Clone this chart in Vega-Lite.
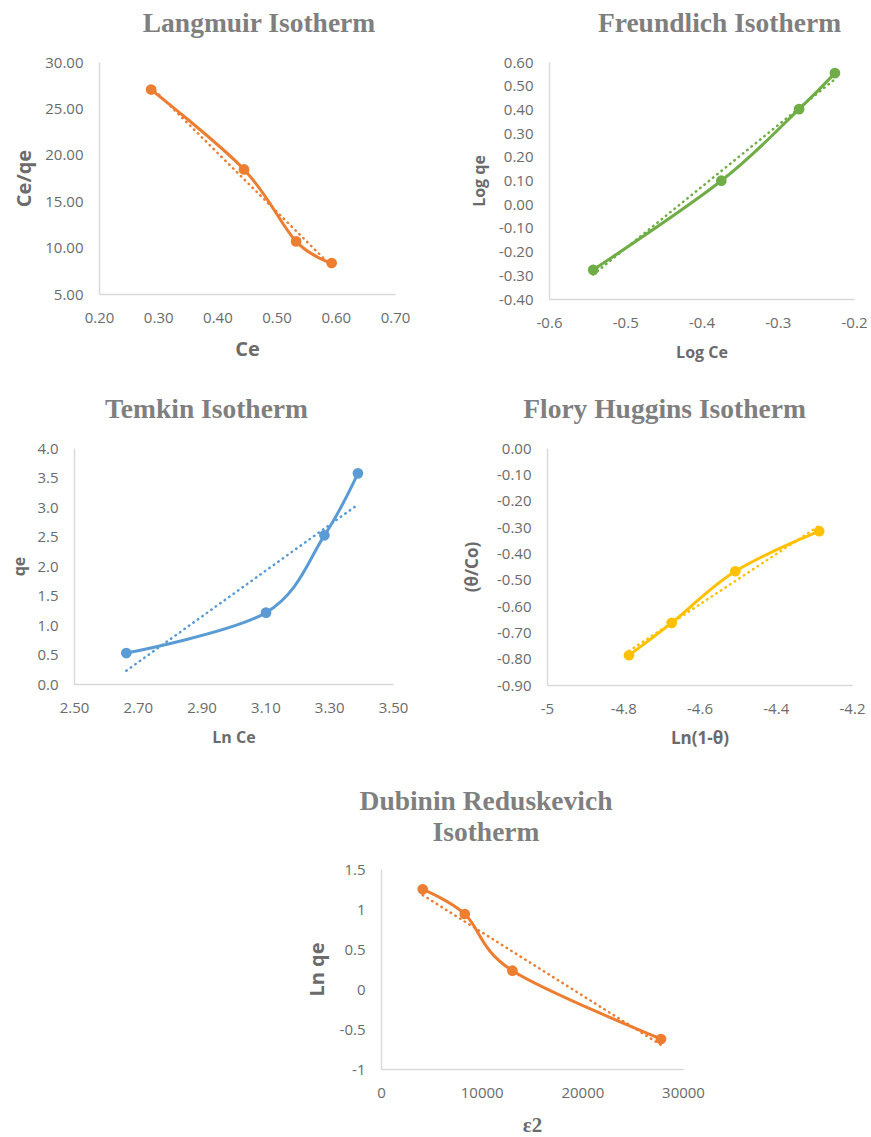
{
  "$schema": "https://vega.github.io/schema/vega-lite/v6.json",
  "padding": {"left": 5, "top": 9, "right": 5, "bottom": 5},
  "background": "white",
  "config": {
    "view": {"stroke": null},
    "locale": {"number": {"decimal": ".", "thousands": ",", "grouping": [3], "currency": ["$", ""], "minus": "-"}},
    "axis": {
      "grid": false, "ticks": false, "tickSize": 0,
      "domainColor": "#D9D9D9", "domainWidth": 1.5,
      "labelFont": "Open Sans", "labelFontSize": 15, "labelColor": "#6B6B6B",
      "labelFlush": false, "labelOverlap": false,
      "titleFont": "Open Sans", "titleFontWeight": "bold", "titleColor": "#6B6B6B"
    },
    "axisX": {"labelPadding": 16, "titlePadding": 14},
    "axisY": {"labelPadding": 16, "titlePadding": 9},
    "title": {"font": "Liberation Serif", "fontWeight": "bold", "fontSize": 27.5, "color": "#7F7F7F", "frame": "group", "anchor": "middle", "offset": 18}
  },
  "datasets": {
    "langmuir": [
      {"x": 0.288, "y": 27.03},
      {"x": 0.445, "y": 18.42},
      {"x": 0.533, "y": 10.67},
      {"x": 0.593, "y": 8.34}
    ],
    "freundlich": [
      {"x": -0.542, "y": -0.277},
      {"x": -0.374, "y": 0.099},
      {"x": -0.272, "y": 0.401},
      {"x": -0.225, "y": 0.553}
    ],
    "temkin": [
      {"x": 2.664, "y": 0.525},
      {"x": 3.102, "y": 1.21},
      {"x": 3.285, "y": 2.52},
      {"x": 3.39, "y": 3.57}
    ],
    "flory": [
      {"x": -4.785, "y": -0.787},
      {"x": -4.673, "y": -0.664},
      {"x": -4.506, "y": -0.468},
      {"x": -4.286, "y": -0.316}
    ],
    "dubinin": [
      {"x": 4147, "y": 1.246},
      {"x": 8323, "y": 0.9375},
      {"x": 13056, "y": 0.229},
      {"x": 27812, "y": -0.625}
    ],
    "blank": [{"a": 0}]
  },
  "columns": 1,
  "spacing": 41,
  "concat": [
    {
      "columns": 1,
      "spacing": 35,
      "concat": [
        {
          "spacing": 8,
          "hconcat": [
            {"width": 1, "height": 10, "data": {"name": "blank"}, "mark": {"type": "point", "opacity": 0, "size": 1}, "encoding": {}},
            {
              "bounds": "flush",
              "spacing": 154,
              "hconcat": [
                {
                  "width": 296, "height": 232,
                  "title": {"text": "Langmuir Isotherm", "dx": 12},
                  "data": {"name": "langmuir"},
                  "encoding": {
                    "x": {"field": "x", "type": "quantitative", "scale": {"domain": [0.2, 0.7], "nice": false, "zero": false}, "axis": {"title": "Ce", "values": [0.2, 0.3, 0.4, 0.5, 0.6, 0.7], "format": ".2f", "titleFontSize": 20}},
                    "y": {"field": "y", "type": "quantitative", "scale": {"domain": [5, 30], "nice": false, "zero": false}, "axis": {"title": "Ce/qe", "values": [5, 10, 15, 20, 25, 30], "format": ".2f", "titleFontSize": 20, "titlePadding": 10}}
                  },
                  "layer": [
                    {"transform": [{"regression": "y", "on": "x"}], "mark": {"type": "line", "color": "#ED7D31", "strokeWidth": 2.5, "strokeDash": [0.5, 5], "strokeCap": "round"}},
                    {"mark": {"type": "line", "color": "#ED7D31", "strokeWidth": 3, "interpolate": "cardinal"}},
                    {"mark": {"type": "point", "filled": true, "color": "#ED7D31", "size": 115, "opacity": 1}}
                  ]
                },
                {
                  "width": 305, "height": 237,
                  "title": {"text": "Freundlich Isotherm", "dx": 18},
                  "data": {"name": "freundlich"},
                  "encoding": {
                    "x": {"field": "x", "type": "quantitative", "scale": {"domain": [-0.6, -0.2], "nice": false, "zero": false}, "axis": {"title": "Log Ce", "values": [-0.6, -0.5, -0.4, -0.3, -0.2], "format": ".1f", "titleFontSize": 16}},
                    "y": {"field": "y", "type": "quantitative", "scale": {"domain": [-0.4, 0.6], "nice": false, "zero": false}, "axis": {"title": "Log qe", "values": [-0.4, -0.3, -0.2, -0.1, 0, 0.1, 0.2, 0.3, 0.4, 0.5, 0.6], "format": ".2f", "titleFontSize": 16, "titlePadding": 11}}
                  },
                  "layer": [
                    {"transform": [{"regression": "y", "on": "x"}], "mark": {"type": "line", "color": "#70AD47", "strokeWidth": 2.5, "strokeDash": [0.5, 5], "strokeCap": "round"}},
                    {"mark": {"type": "line", "color": "#70AD47", "strokeWidth": 3, "interpolate": "cardinal"}},
                    {"mark": {"type": "point", "filled": true, "color": "#70AD47", "size": 115, "opacity": 1}}
                  ]
                }
              ]
            }
          ]
        },
        {
          "spacing": 5,
          "hconcat": [
            {"width": 1, "height": 10, "data": {"name": "blank"}, "mark": {"type": "point", "opacity": 0, "size": 1}, "encoding": {}},
            {
              "bounds": "flush",
              "spacing": 154,
              "hconcat": [
                {
                  "width": 319, "height": 236,
                  "title": {"text": "Temkin  Isotherm", "dx": -27},
                  "data": {"name": "temkin"},
                  "encoding": {
                    "x": {"field": "x", "type": "quantitative", "scale": {"domain": [2.5, 3.5], "nice": false, "zero": false}, "axis": {"title": "Ln Ce", "values": [2.5, 2.7, 2.9, 3.1, 3.3, 3.5], "format": ".2f", "titleFontSize": 16}},
                    "y": {"field": "y", "type": "quantitative", "scale": {"domain": [0, 4], "nice": false, "zero": false}, "axis": {"title": "qe", "values": [0, 0.5, 1, 1.5, 2, 2.5, 3, 3.5, 4], "format": ".1f", "titleFontSize": 16, "titlePadding": 9}}
                  },
                  "layer": [
                    {"transform": [{"regression": "y", "on": "x"}], "mark": {"type": "line", "color": "#5B9BD5", "strokeWidth": 2.5, "strokeDash": [0.5, 5], "strokeCap": "round"}},
                    {"mark": {"type": "line", "color": "#5B9BD5", "strokeWidth": 3, "interpolate": "cardinal"}},
                    {"mark": {"type": "point", "filled": true, "color": "#5B9BD5", "size": 115, "opacity": 1}}
                  ]
                },
                {
                  "width": 305, "height": 237,
                  "title": {"text": "Flory Huggins Isotherm", "dx": -35},
                  "data": {"name": "flory"},
                  "encoding": {
                    "x": {"field": "x", "type": "quantitative", "scale": {"domain": [-5, -4.2], "nice": false, "zero": false}, "axis": {"title": "Ln(1-θ)", "values": [-5, -4.8, -4.6, -4.4, -4.2], "format": ".1~f", "titleFontSize": 17}},
                    "y": {"field": "y", "type": "quantitative", "scale": {"domain": [-0.9, 0], "nice": false, "zero": false}, "axis": {"title": "(θ/Co)", "values": [-0.9, -0.8, -0.7, -0.6, -0.5, -0.4, -0.3, -0.2, -0.1, 0], "format": ".2f", "titleFontSize": 17, "titlePadding": 15}}
                  },
                  "layer": [
                    {"transform": [{"regression": "y", "on": "x"}], "mark": {"type": "line", "color": "#FFC000", "strokeWidth": 2.5, "strokeDash": [0.5, 5], "strokeCap": "round"}},
                    {"mark": {"type": "line", "color": "#FFC000", "strokeWidth": 3, "interpolate": "cardinal"}},
                    {"mark": {"type": "point", "filled": true, "color": "#FFC000", "size": 115, "opacity": 1}}
                  ]
                }
              ]
            }
          ]
        }
      ]
    },
    {
      "bounds": "flush",
      "spacing": 81,
      "hconcat": [
        {"width": 295, "height": 10, "data": {"name": "blank"}, "mark": {"type": "point", "opacity": 0, "size": 1}, "encoding": {}},
        {
          "width": 302, "height": 200,
          "title": {"text": ["Dubinin Reduskevich", "Isotherm"], "dx": -46, "lineHeight": 31, "offset": 16},
          "data": {"name": "dubinin"},
          "encoding": {
            "x": {"field": "x", "type": "quantitative", "scale": {"domain": [0, 30000], "nice": false, "zero": false}, "axis": {"title": "ε2", "values": [0, 10000, 20000, 30000], "format": "d", "titleFont": "Liberation Serif", "titleFontSize": 21}},
            "y": {"field": "y", "type": "quantitative", "scale": {"domain": [-1, 1.5], "nice": false, "zero": false}, "axis": {"title": "Ln qe", "values": [-1, -0.5, 0, 0.5, 1, 1.5], "format": ".1~f", "titleFontSize": 20, "titlePadding": 12}}
          },
          "layer": [
            {"transform": [{"regression": "y", "on": "x"}], "mark": {"type": "line", "color": "#ED7D31", "strokeWidth": 2.5, "strokeDash": [0.5, 5], "strokeCap": "round"}},
            {"mark": {"type": "line", "color": "#ED7D31", "strokeWidth": 3, "interpolate": "cardinal"}},
            {"mark": {"type": "point", "filled": true, "color": "#ED7D31", "size": 115, "opacity": 1}}
          ]
        }
      ]
    }
  ]
}
